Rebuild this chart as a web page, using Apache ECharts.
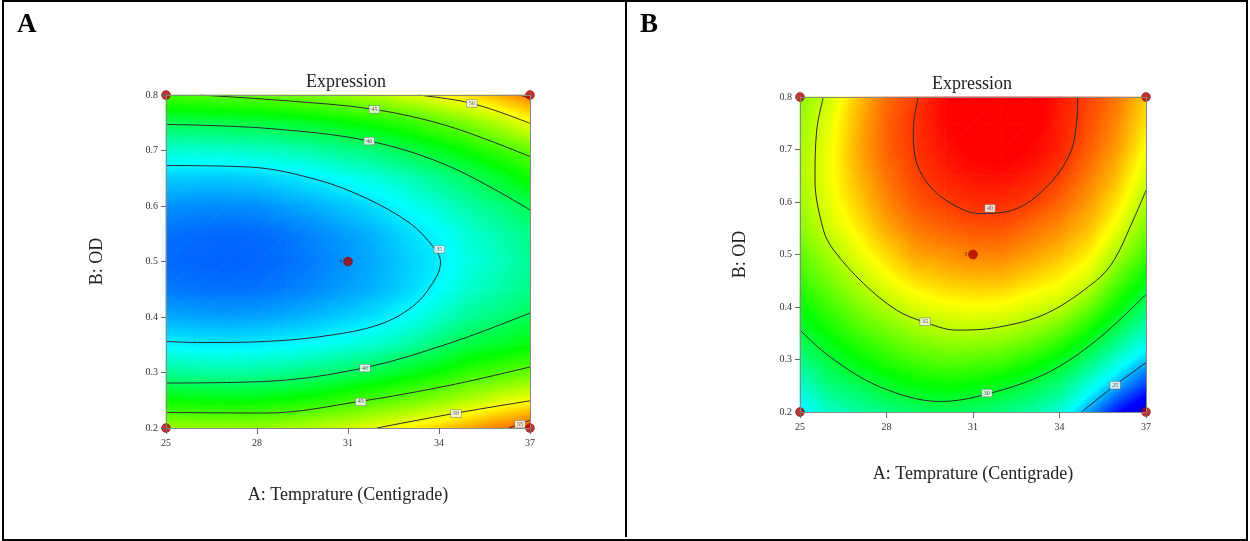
<!DOCTYPE html>
<html>
<head>
<meta charset="utf-8">
<script src="https://cdn.jsdelivr.net/npm/echarts/dist/echarts.min.js"></script>
<style>
  body { margin: 0; background: #fff; }
  #chart { position: absolute; left: 0; top: 0; width: 1250px; height: 541px; }
  .frame { position: absolute; pointer-events: none; border: 2px solid #000; }
</style>
</head>
<body>
<div id="chart"></div>
<div class="frame" style="left:2px;top:0;width:1242px;height:537px"></div>
<div class="frame" style="left:625px;top:0;width:0;height:537px;border-width:0 0 0 2px"></div>
<script>
// grid of the response surface
const tempGrid = [25, 26, 27, 28, 29, 30, 31, 32, 33, 34, 35, 36, 37];
const odGrid = [0.2, 0.25, 0.3, 0.35, 0.4, 0.45, 0.5, 0.55, 0.6, 0.65, 0.7, 0.75, 0.8];

// panel A, one row per OD value
const exprA = [
  [47.5, 47.3, 47.2, 47.3, 47.7, 48.3, 49.0, 49.9, 50.9, 52.0, 53.3, 54.6, 56.0],
  [42.5, 42.3, 42.2, 42.3, 42.7, 43.3, 44.2, 45.0, 45.9, 46.9, 48.1, 49.3, 50.3],
  [38.4, 38.2, 38.1, 38.2, 38.6, 39.2, 39.9, 40.7, 41.7, 42.7, 44.0, 44.8, 45.6],
  [35.2, 35.0, 34.9, 35.0, 35.3, 35.7, 36.3, 37.0, 38.0, 39.4, 40.8, 41.5, 42.3],
  [32.8, 32.6, 32.5, 32.6, 32.9, 33.4, 34.0, 34.7, 35.7, 37.0, 38.4, 39.2, 40.2],
  [31.3, 31.1, 31.0, 31.1, 31.4, 31.9, 32.5, 33.2, 34.2, 35.5, 36.9, 37.8, 38.8],
  [30.8, 30.6, 30.5, 30.6, 31.0, 31.5, 32.2, 33.0, 34.0, 35.0, 36.3, 37.3, 38.4],
  [31.0, 30.8, 30.7, 30.8, 31.2, 31.8, 32.5, 33.3, 34.4, 35.4, 36.7, 37.7, 38.8],
  [32.1, 31.9, 31.9, 32.0, 32.5, 33.1, 33.8, 34.6, 35.7, 36.7, 38.0, 39.1, 40.3],
  [33.9, 33.8, 33.8, 34.0, 34.5, 35.1, 35.8, 36.6, 37.5, 38.6, 39.9, 41.3, 42.9],
  [36.8, 36.8, 36.9, 37.1, 37.5, 38.0, 38.7, 39.4, 40.5, 41.6, 42.9, 44.2, 45.6],
  [40.3, 40.4, 40.6, 40.8, 41.2, 41.7, 42.4, 43.1, 44.0, 45.3, 46.6, 48.2, 50.1],
  [44.7, 45.0, 45.3, 45.6, 46.0, 46.6, 47.3, 48.2, 49.4, 50.5, 51.7, 53.1, 54.8]
];

// panel B
const exprB = [
  [25.6, 27.1, 27.8, 28.5, 29.0, 29.3, 29.0, 28.6, 27.9, 26.8, 24.6, 22.7, 21.2],
  [27.0, 28.6, 29.3, 30.2, 30.8, 31.1, 30.9, 30.4, 29.6, 28.6, 26.7, 24.8, 23.3],
  [28.4, 29.8, 30.9, 31.8, 32.5, 32.9, 32.8, 32.5, 31.7, 30.6, 28.9, 26.9, 25.2],
  [29.8, 31.1, 32.3, 33.2, 34.1, 34.6, 34.7, 34.5, 33.8, 32.8, 31.1, 29.1, 27.1],
  [31.0, 32.3, 33.6, 34.7, 35.6, 36.0, 36.2, 36.1, 35.6, 35.0, 33.3, 31.1, 29.0],
  [32.1, 33.4, 34.8, 36.0, 36.9, 37.3, 37.5, 37.5, 37.0, 36.4, 35.4, 32.8, 30.8],
  [33.0, 34.4, 35.8, 37.0, 38.0, 38.3, 38.6, 38.6, 38.1, 37.5, 36.6, 34.5, 32.3],
  [33.8, 35.3, 36.6, 37.9, 38.8, 39.2, 39.5, 39.5, 39.0, 38.4, 37.5, 35.9, 33.6],
  [34.3, 35.8, 37.2, 38.5, 39.4, 39.9, 40.2, 40.2, 39.9, 39.2, 38.2, 36.8, 34.6],
  [34.5, 36.0, 37.6, 38.9, 39.8, 40.4, 40.7, 40.8, 40.5, 39.9, 38.8, 37.5, 35.5],
  [34.4, 36.0, 37.8, 39.2, 40.0, 40.7, 41.1, 41.2, 41.0, 40.4, 39.3, 38.1, 36.2],
  [34.2, 35.8, 37.7, 39.2, 40.1, 40.9, 41.3, 41.5, 41.3, 40.5, 39.6, 38.5, 36.8],
  [33.9, 35.3, 37.4, 39.0, 39.9, 40.9, 41.4, 41.6, 41.5, 40.6, 39.8, 38.8, 37.2]
];

// contour lines, [temperature, OD]
const a35 = [[25, 0.673], [27.8, 0.67], [30, 0.647], [31.6, 0.614], [33.04, 0.569], [33.8, 0.527], [34.05, 0.5], [33.92, 0.473], [33.26, 0.425], [32.16, 0.389], [30.52, 0.368], [28.32, 0.356], [26.12, 0.354], [25, 0.356]];
const a40Up = [[25, 0.747], [28.3, 0.74], [31.7, 0.717], [34.36, 0.671], [37, 0.593]];
const a40Low = [[25, 0.281], [28.3, 0.284], [31.5, 0.308], [34.36, 0.353], [37, 0.407]];
const a45Up = [[26.1, 0.8], [28.87, 0.79], [31.87, 0.774], [34.36, 0.743], [37, 0.689]];
const a45Low = [[25, 0.228], [28.3, 0.227], [31.4, 0.248], [34.36, 0.277], [37, 0.31]];
const a50Up = [[33.3, 0.8], [35.08, 0.785], [37, 0.749]];
const a50Low = [[31.95, 0.2], [34.58, 0.227], [37, 0.249]];
const a55Up = [[36.65, 0.8], [37, 0.794]];
const a55Low = [[36.3, 0.2], [36.67, 0.207], [37, 0.214]];

const b40 = [[29.1, 0.8], [28.93, 0.737], [29.05, 0.674], [29.62, 0.623], [30.55, 0.588], [31.24, 0.578], [32.4, 0.585], [33.56, 0.629], [34.37, 0.693], [34.6, 0.756], [34.63, 0.8]];
const b35 = [[25.81, 0.8], [25.58, 0.737], [25.52, 0.642], [25.81, 0.547], [26.16, 0.509], [27.2, 0.445], [28.35, 0.394], [29.28, 0.372], [30.43, 0.356], [31.82, 0.361], [33.56, 0.388], [35.29, 0.451], [35.9, 0.49], [36.56, 0.566], [37, 0.622]];
const b30 = [[25, 0.356], [26.04, 0.305], [27.77, 0.248], [29.86, 0.22], [31.48, 0.234], [33.56, 0.274], [35.29, 0.337], [37, 0.424]];
const b25 = [[34.77, 0.2], [35.93, 0.251], [37, 0.294]];

// contour value tags [temperature, OD, text]
const tagsA = [[31.87, 0.774, '45'], [31.7, 0.717, '40'], [35.08, 0.785, '50'], [34.01, 0.522, '35'], [31.56, 0.308, '40'], [31.42, 0.247, '45'], [34.56, 0.226, '50'], [36.67, 0.207, '55']];
const tagsB = [[31.59, 0.588, '40'], [29.34, 0.372, '35'], [31.48, 0.236, '30'], [35.93, 0.251, '25']];

// design points, last one is the centre point with its run count
const designPts = [[25, 0.2, ''], [25, 0.8, ''], [37, 0.2, ''], [37, 0.8, ''], [31, 0.5, '3']];

// colour ramps (value, colour)
const rampA = [[27.5, '#0000ff'], [35.5, '#00ffff'], [42.5, '#00ff00'], [50.5, '#ffff00'], [58.5, '#ff0000']];
const rampB = [[20.5, '#0000b4'], [22.5, '#0000ff'], [26, '#00ffff'], [31, '#00ff00'], [36.3, '#ffff00'], [41, '#ff0000']];

const serif = '"Liberation Serif", "Times New Roman", serif';

var myChart = echarts.init(document.getElementById('chart'));

//表面网格 -> 单元
function buildCells (xs, ys, vals) {
	var cells = [];
	for (var j = 0; j < ys.length - 1; j++) {
		for (var i = 0; i < xs.length - 1; i++) {
			cells.push([xs[i], ys[j], xs[i + 1], ys[j + 1], vals[j][i], vals[j][i + 1], vals[j + 1][i], vals[j + 1][i + 1]]);
		}
	}
	return cells;
}

function hexRgb (h) {
	return [parseInt(h.substr(1, 2), 16), parseInt(h.substr(3, 2), 16), parseInt(h.substr(5, 2), 16)];
}
function colorAt (ramp, v) {
	if (v <= ramp[0][0]) return ramp[0][1];
	for (var k = 1; k < ramp.length; k++) {
		if (v <= ramp[k][0]) {
			var t = (v - ramp[k - 1][0]) / (ramp[k][0] - ramp[k - 1][0]);
			var a = hexRgb(ramp[k - 1][1]), b = hexRgb(ramp[k][1]);
			return 'rgb(' + Math.round(a[0] + (b[0] - a[0]) * t) + ',' + Math.round(a[1] + (b[1] - a[1]) * t) + ',' + Math.round(a[2] + (b[2] - a[2]) * t) + ')';
		}
	}
	return ramp[ramp.length - 1][1];
}

// one triangle filled with a linear gradient that follows the ramp
function triangle (ramp, p1, p2, p3, v1, v2, v3) {
	var lo = ramp[0][0], hi = ramp[ramp.length - 1][0];
	var e1x = p2[0] - p1[0], e1y = p2[1] - p1[1];
	var e2x = p3[0] - p1[0], e2y = p3[1] - p1[1];
	var det = e1x * e2y - e1y * e2x;
	var d1 = v2 - v1, d2 = v3 - v1;
	var gx = (d1 * e2y - e1y * d2) / det;
	var gy = (e1x * d2 - d1 * e2x) / det;
	var g2 = gx * gx + gy * gy;
	var fill;
	if (g2 < 1e-9) {
		fill = colorAt(ramp, v1);
	} else {
		var s = (lo - v1) / g2, e = (hi - v1) / g2;
		fill = {
			type: 'linear', global: true,
			x: p1[0] + gx * s, y: p1[1] + gy * s,
			x2: p1[0] + gx * e, y2: p1[1] + gy * e,
			colorStops: ramp.map(function (r) { return { offset: (r[0] - lo) / (hi - lo), color: r[1] }; })
		};
	}
	return { type: 'polygon', shape: { points: [p1, p2, p3] }, style: { fill: fill, stroke: fill, lineWidth: 0.8 } };
}

function surfaceRenderer (ramp) {
	return function (params, api) {
		var p00 = api.coord([api.value(0), api.value(1)]);
		var p10 = api.coord([api.value(2), api.value(1)]);
		var p01 = api.coord([api.value(0), api.value(3)]);
		var p11 = api.coord([api.value(2), api.value(3)]);
		var v00 = api.value(4), v10 = api.value(5), v01 = api.value(6), v11 = api.value(7);
		return {
			type: 'group',
			children: [
				triangle(ramp, p00, p10, p11, v00, v10, v11),
				triangle(ramp, p00, p11, p01, v00, v11, v01)
			]
		};
	};
}

function contour (data, xi) {
	return {
		type: 'line', xAxisIndex: xi, yAxisIndex: xi, data: data,
		smooth: 0.35, symbol: 'none', silent: true, z: 3,
		lineStyle: { color: '#2b2b2b', width: 1 }
	};
}

function tagSeries (data, xi) {
	return {
		type: 'scatter', xAxisIndex: xi, yAxisIndex: xi, data: data,
		symbolSize: 0, silent: true, z: 5,
		label: {
			show: true, position: 'inside', formatter: function (p) { return p.value[2]; },
			fontSize: 6, fontFamily: serif, color: '#333', backgroundColor: '#fff',
			borderColor: '#777', borderWidth: 0.6, padding: [1, 2, 0, 2]
		}
	};
}

function pointSeries (xi) {
	return {
		type: 'scatter', xAxisIndex: xi, yAxisIndex: xi, data: designPts,
		symbolSize: 9, clip: false, silent: true, z: 6,
		itemStyle: { color: '#b30000', borderColor: '#700000', borderWidth: 0.5 },
		label: {
			show: true, position: 'left', distance: 1,
			formatter: function (p) { return p.value[2]; },
			fontSize: 7, fontFamily: serif, color: '#222'
		}
	};
}

function xMain (gi, nameGap) {
	return {
		gridIndex: gi, type: 'value', min: 25, max: 37, interval: 3, z: 8,
		name: 'A: Temprature (Centigrade)', nameLocation: 'middle', nameGap: nameGap,
		nameTextStyle: { fontFamily: serif, fontSize: 18, color: '#222' },
		axisLine: { show: true, lineStyle: { color: '#888', width: 1 } },
		axisTick: { show: true, length: 6, lineStyle: { color: '#666' } },
		axisLabel: { show: true, fontFamily: serif, fontSize: 10, color: '#333', margin: 10, showMinLabel: true, showMaxLabel: true },
		splitLine: { show: false }
	};
}
function yMain (gi, nameGap) {
	return {
		gridIndex: gi, type: 'value', min: 0.2, max: 0.8, interval: 0.1, z: 8,
		name: 'B: OD', nameLocation: 'middle', nameGap: nameGap,
		nameTextStyle: { fontFamily: serif, fontSize: 18, color: '#222' },
		axisLine: { show: true, lineStyle: { color: '#888', width: 1 } },
		axisTick: { show: true, length: 5, lineStyle: { color: '#666' } },
		axisLabel: { show: true, fontFamily: serif, fontSize: 10, color: '#333', margin: 8, showMinLabel: true, showMaxLabel: true,
			formatter: function (v) { return v.toFixed(1); } },
		splitLine: { show: false }
	};
}
// top / right edges of the plot frame
function edgeAxis (gi, pos, min, max) {
	return {
		gridIndex: gi, type: 'value', position: pos, min: min, max: max, z: 8,
		axisLine: { show: true, lineStyle: { color: '#888', width: 1 } },
		axisTick: { show: false }, axisLabel: { show: false }, splitLine: { show: false }
	};
}

var option = {
	animation: false,
	backgroundColor: '#fff',
	title: [
		{ text: 'A', left: 17, top: 12, padding: 0, textStyle: { fontFamily: serif, fontSize: 27, fontWeight: 'bold', color: '#000' } },
		{ text: 'B', left: 640, top: 12, padding: 0, textStyle: { fontFamily: serif, fontSize: 27, fontWeight: 'bold', color: '#000' } },
		{ text: 'Expression', left: 306, top: 73, padding: 0, textStyle: { fontFamily: serif, fontSize: 18, fontWeight: 'normal', color: '#222' } },
		{ text: 'Expression', left: 932, top: 75, padding: 0, textStyle: { fontFamily: serif, fontSize: 18, fontWeight: 'normal', color: '#222' } }
	],
	grid: [
		{ left: 166, top: 95, width: 364, height: 333, outerBoundsMode: 'none' },
		{ left: 800, top: 97, width: 346, height: 315, outerBoundsMode: 'none' }
	],
	xAxis: [xMain(0, 58), edgeAxis(0, 'top', 25, 37), xMain(1, 53), edgeAxis(1, 'top', 25, 37)],
	yAxis: [yMain(0, 60), edgeAxis(0, 'right', 0.2, 0.8), yMain(1, 51), edgeAxis(1, 'right', 0.2, 0.8)],
	series: [
		{
			type: 'custom', xAxisIndex: 0, yAxisIndex: 0, z: 1, silent: true,
			renderItem: surfaceRenderer(rampA), encode: { x: [0, 2], y: [1, 3] },
			data: buildCells(tempGrid, odGrid, exprA)
		},
		{
			type: 'custom', xAxisIndex: 2, yAxisIndex: 2, z: 1, silent: true,
			renderItem: surfaceRenderer(rampB), encode: { x: [0, 2], y: [1, 3] },
			data: buildCells(tempGrid, odGrid, exprB)
		},
		contour(a35, 0), contour(a40Up, 0), contour(a40Low, 0), contour(a45Up, 0), contour(a45Low, 0),
		contour(a50Up, 0), contour(a50Low, 0), contour(a55Up, 0), contour(a55Low, 0),
		contour(b40, 2), contour(b35, 2), contour(b30, 2), contour(b25, 2),
		tagSeries(tagsA, 0), tagSeries(tagsB, 2),
		pointSeries(0), pointSeries(2)
	]
};
myChart.setOption(option);
</script>
</body>
</html>
